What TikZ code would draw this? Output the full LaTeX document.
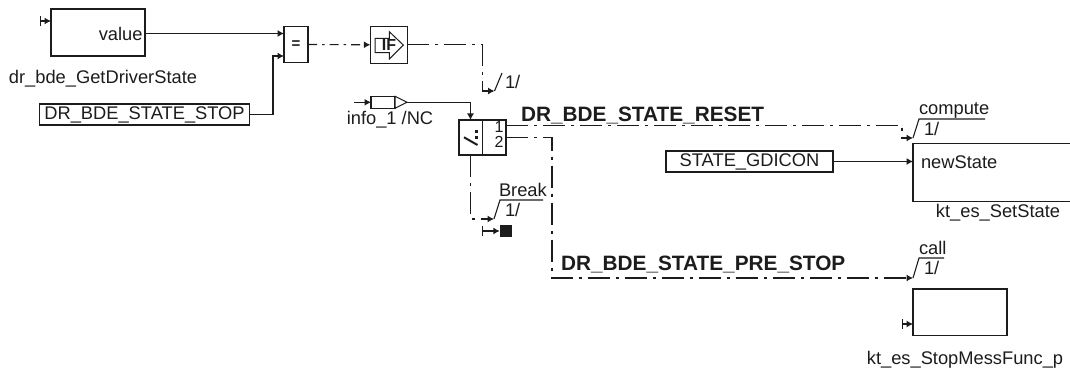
\documentclass[tikz,border=0pt]{standalone}
\usepackage{fontspec}
\setmainfont{Liberation Sans}
\usetikzlibrary{arrows.meta}
\definecolor{ink}{HTML}{1C1C1C}
\tikzset{
  x=1pt,y=-1pt,
  wire/.style={draw=ink,line width=1.1pt},
  arrowed/.style={-{Latex[length=6.5pt,width=7pt]}},
  dashdot/.style={dash pattern=on 22pt off 6pt on 3pt off 6pt},
  dashdotdot/.style={dash pattern=on 9pt off 5pt on 2.5pt off 5pt},
  blockbox/.style={draw=ink,line width=1.1pt,fill=white,inner sep=0pt,outer sep=0pt,rectangle},
  lbl/.style={inner sep=0pt,outer sep=0pt,font=\fontsize{18.3}{20}\selectfont,text=ink},
  boldlbl/.style={inner sep=0pt,outer sep=0pt,font=\fontsize{20.8}{22}\selectfont\bfseries,text=ink},
  stub/.style={wire,{Bar[width=10pt,line width=1.1pt]}-{Latex[length=6.5pt,width=7pt]}},
}
\begin{document}
\begin{tikzpicture}
\useasboundingbox (0,0) rectangle (1070,371);
\begin{scope}
\clip (0,0) rectangle (1070,371);
% blocks
\node[blockbox,minimum width=94pt,minimum height=47pt] (val) at (98,32.5) {};
\node[lbl,anchor=east] (valt) at (142.5,34) {value};
\node[lbl] (valn) at (103,79) {dr\_bde\_GetDriverState};
\node[blockbox,minimum width=210pt,minimum height=21pt] (stop) at (144.5,114.5) {};
\node[lbl] (stopt) at (144.5,114.5) {DR\_BDE\_STATE\_STOP};
\node[blockbox,minimum width=24pt,minimum height=35.5pt] (eq) at (296,44.5) {};
\node[inner sep=0pt,font=\fontsize{15}{16}\selectfont\bfseries,text=ink] (eqt) at (296,44.5) {=};
\node[blockbox,minimum width=37pt,minimum height=37pt] (ifb) at (388.8,44.8) {};
\draw[draw=ink,line width=1pt] (375,38.3)--(389.3,38.3)--(389.3,31.7)--(403.3,45)--(389.3,59)--(389.3,52.7)--(375,52.7)--cycle;
\node[inner sep=0pt,font=\fontsize{16}{17}\selectfont\bfseries,text=ink] (ift) at (389,45.3) {IF};
\node[blockbox,minimum width=24pt,minimum height=12pt] (inf) at (383,102.3) {};
\draw[draw=ink,line width=1pt,fill=white] (395,96.3)--(407,102.3)--(395,108.3)--cycle;
\coordinate (inftip) at (407,102.3);
\node[lbl] (inft) at (390,120) {info\_1 /NC};
\node[blockbox,minimum width=47pt,minimum height=35pt] (sw) at (482.5,137.5) {};
\draw[draw=ink,line width=1.1pt] (482.7,120)--(482.7,155);
\draw[draw=ink,line width=2pt] (464,137.3)--(477.5,145);
\fill[ink] (475,130.5) rectangle (478,133.5);
\fill[ink] (475,136) rectangle (478,139);
\node[inner sep=0pt,font=\fontsize{16}{16}\selectfont,text=ink] (one) at (499,127) {1};
\node[inner sep=0pt,font=\fontsize{16}{16}\selectfont,text=ink] (two) at (499,142) {2};
\node[blockbox,minimum width=167pt,minimum height=21pt] (gdi) at (749.5,161.5) {};
\node[lbl] (gdit) at (749.5,161.5) {STATE\_GDICON};
\node[blockbox,minimum width=172pt,minimum height=58.5pt] (set) at (999,172.5) {};
\node[lbl,anchor=west] (sett) at (921,162) {newState};
\node[lbl] (setn) at (998,213) {kt\_es\_SetState};
\node[blockbox,minimum width=94pt,minimum height=46.7pt] (msg) at (960,312.3) {};
\node[lbl] (msgn) at (965,360) {kt\_es\_StopMessFunc\_p};
\node[fill=ink,minimum width=12.5pt,minimum height=12.5pt,inner sep=0pt,outer sep=0pt] (brk) at (506,231) {};
% texts on guards
\node[lbl,anchor=west] (g1) at (505,82) {1/};
\node[lbl,anchor=west] (g2t) at (499,190) {Break};
\node[lbl,anchor=west] (g2) at (505,210) {1/};
\node[lbl,anchor=west] (g3t) at (919,110) {compute};
\node[lbl,anchor=west] (g3) at (924,129) {1/};
\node[lbl,anchor=west] (g4t) at (919,248) {call};
\node[lbl,anchor=west] (g4) at (924,268) {1/};
\node[boldlbl,anchor=west] (rst) at (521,116) {DR\_BDE\_STATE\_RESET};
\node[boldlbl,anchor=west] (pre) at (561,265) {DR\_BDE\_STATE\_PRE\_STOP};
% named guard points
\coordinate (a1) at (494.5,91); \coordinate (a1t) at (502,73);
\coordinate (a2) at (494,219); \coordinate (a2t) at (500,200); \coordinate (a2e) at (543,200);
\coordinate (a3) at (913,138); \coordinate (a3t) at (919,119); \coordinate (a3e) at (985,119);
\coordinate (a4) at (913,278); \coordinate (a4t) at (919,258); \coordinate (a4e) at (944,258);
\draw[wire] (a1)--(a1t);
\draw[wire] (a2)--(a2t)--(a2e);
\draw[wire] (a3)--(a3t)--(a3e);
\draw[wire] (a4)--(a4t)--(a4e);
% stubs
\coordinate (s1) at (40,21); \draw[stub] (s1)--(s1-|val.west);
\coordinate (s2) at (902,324); \draw[stub] (s2)--(s2-|msg.west);
\coordinate (s3) at (482,231); \draw[stub] (s3)--(brk.west);
% connectors
\coordinate (eqa) at (0,33.5); \coordinate (eqb) at (0,56);
\draw[wire,arrowed] (val.east|-eqa)--(eq.west|-eqa);
\draw[wire,arrowed] (stop.east)-|(273,56)--(eq.west|-eqb);
\draw[wire,arrowed,dashdotdot] (eq.east)--(ifb.west);
\draw[wire,arrowed,dashdot] (ifb.east)-|(482.5,91)--(a1);
\coordinate (infs) at (354,102.3);
\draw[wire,arrowed] (infs)--(inf.west);
\draw[wire,arrowed] (inftip)-|(470.5,120);
\draw[wire,arrowed,dashdot] (470.5,155)--(470.5,219)--(a2);
\draw[wire,arrowed,dashdot] (506,125.7)--(902,125.7)--(902,138)--(a3);
\draw[wire,arrowed,dashdot] (506,137.7)--(552,137.7)--(552,278)--(a4);
\draw[wire,arrowed] (gdi.east)--(set.west|-gdi.east);
\end{scope}
\end{tikzpicture}
\end{document}
